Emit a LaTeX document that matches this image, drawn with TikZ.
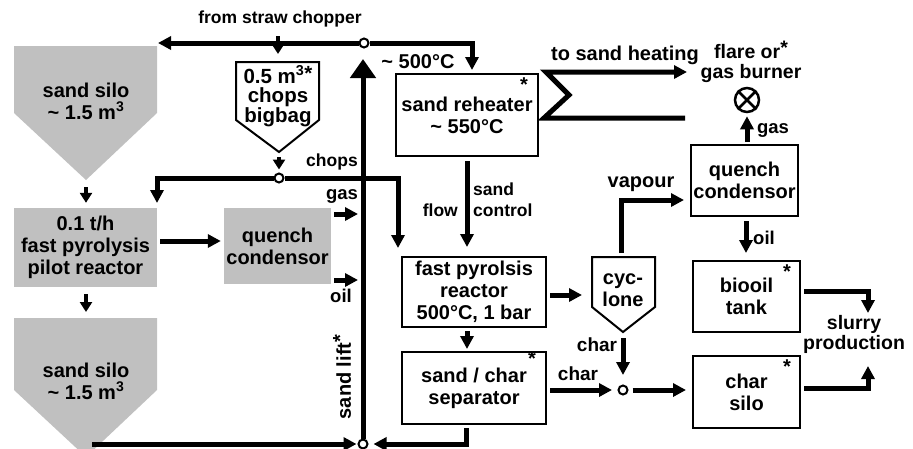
\documentclass[tikz,border=0pt]{standalone}
\usepackage{fontspec}
\setmainfont{Liberation Sans}
\usetikzlibrary{arrows.meta,calc}
\definecolor{silogray}{RGB}{192,192,192}
\newcommand{\bxfont}{\fontsize{20}{22}\selectfont\bfseries}
\newcommand{\lbfont}{\fontsize{17.5}{19}\selectfont\bfseries}
\begin{document}
\begin{tikzpicture}[x=1pt,y=-1pt,
  flow/.style={line width=5pt,-{Triangle[length=13pt,width=13pt]}},
  thinflow/.style={line width=4pt,-{Triangle[length=10pt,width=12pt]}},
  liftflow/.style={line width=5pt,-{Triangle[length=19pt,width=25pt]}},
  box/.style={draw,line width=2pt,fill=white,inner sep=0pt,align=center,font=\bxfont},
  gbox/.style={fill=silogray,inner sep=0pt,align=center,font=\bxfont},
  pent/.style={draw,line width=2pt,fill=white},
  txt/.style={inner sep=0pt,align=center,font=\bxfont},
  lbl/.style={inner sep=0pt,align=center,font=\lbfont},
  jn/.style={circle,draw,line width=2pt,fill=white,minimum size=9pt,inner sep=0pt},
  starmark/.style={inner sep=0pt,font=\bxfont},
]
\clip (0,0) rectangle (913,448);
\fill[white] (0,0) rectangle (913,448);

% ---------- left column ----------
\fill[silogray] (14,46) -- (157,46) -- (157,113) -- (86,180) -- (14,113) -- cycle;
\node[txt] (silo1) at (86,101) {sand silo\\\textasciitilde\ 1.5 m\textsuperscript{3}};
\coordinate (s1tip) at (86,180);
\coordinate (s1in) at (158,43);

\node[gbox,minimum width=143pt,minimum height=79pt] (pilot) at (85.5,247.5) {0.1 t/h\\fast pyrolysis\\pilot reactor};
\coordinate (pilotin) at (157,203);

\fill[silogray] (14,318) -- (157,318) -- (157,390) -- (86,457) -- (14,390) -- cycle;
\node[txt] (silo2) at (86,381) {sand silo\\\textasciitilde\ 1.5 m\textsuperscript{3}};
\coordinate (s2top) at (86,318);
\coordinate (s2out) at (92,444);

\node[gbox,minimum width=107pt,minimum height=76pt] (q1) at (277.5,246) {quench\\condensor};
\coordinate (gasout) at (358,214);
\coordinate (oilout) at (358,280);

% ---------- bigbag ----------
\draw[pent] (236,62) -- (319,62) -- (319,120) -- (279,152) -- (236,120) -- cycle;
\node[txt,font=\fontsize{20.5}{19}\selectfont\bfseries] (bigbag) at (278,96) {0.5 m\textsuperscript{3}\raisebox{3pt}{*}\\chops\\bigbag};
\coordinate (bbtip) at (279,152);
\coordinate (chopper) at (278,36);
\coordinate (bbin) at (278,54);

% ---------- junctions ----------
\node[jn] (j1) at (364,43) {};
\node[jn] (j2) at (279,178) {};
\node[jn] (j3) at (363,444) {};
\node[jn] (j4) at (623,390) {};
\coordinate (lifttop) at (363,59);
\coordinate (rhin) at (472,70);
\coordinate (rxin) at (398,248);

% ---------- centre column ----------
\node[box,minimum width=142pt,minimum height=82pt] (rh) at (467,115) {sand reheater\\\textasciitilde\ 550°C};
\node[starmark] (rhstar) at (524,85) {*};
\node[box,minimum width=144pt,minimum height=70pt] (rx) at (474,292) {fast pyrolsis\\reactor\\500°C, 1 bar};
\node[box,minimum width=144pt,minimum height=72pt] (sep) at (474,388) {sand / char\\separator};
\node[starmark] (sepstar) at (532,359) {*};

% ---------- cyclone ----------
\draw[pent] (592,257) -- (655,257) -- (655,307) -- (623,332) -- (592,307) -- cycle;
\node[txt] (cyc) at (623,290) {cyc-\\lone};
\coordinate (cyctop) at (621,253);
\coordinate (cyctip) at (623,332);
\coordinate (cycin) at (582,295);

% ---------- right column ----------
\node[box,minimum width=107pt,minimum height=71pt] (q2) at (744.5,180.5) {quench\\condensor};
\node[box,minimum width=107pt,minimum height=71pt] (bio) at (746.5,296.5) {biooil\\tank};
\node[starmark] (biostar) at (787,272) {*};
\node[box,minimum width=107pt,minimum height=72pt] (csilo) at (746.5,392) {char\\silo};
\node[starmark] (csstar) at (787,367) {*};
\node[circle,draw,line width=2.5pt,minimum size=24pt,inner sep=0pt] (burner) at (747,100) {};
\draw[line width=2.5pt] (burner.north west) -- (burner.south east) (burner.north east) -- (burner.south west);
\coordinate (sigA) at (685,118);
\coordinate (sigB) at (687,72);
\coordinate (slurry1) at (868,313);
\coordinate (slurry2) at (868,366);

% ---------- connectors ----------
\draw[flow] (j1.west) -- (s1in);
\draw[thinflow] (chopper) -- (bbin);
\draw[flow] (j1.east) -| (rhin);
\draw[liftflow] (j3.north) -- (lifttop);
\draw[thinflow] ($(bbtip)+(0,5)$) -- ($(j2.north)+(0,-3)$);
\draw[flow] (j2.west) -| (pilotin);
\draw[flow] (j2.east) -| (rxin);
\draw[thinflow] ($(s1tip)+(0,7)$) -- ($(pilot.north)+(0.5,-5)$);
\draw[thinflow] ($(pilot.south)+(0.5,7)$) -- ($(s2top)+(0,-6)$);
\draw[flow] ($(pilot.east)+(3,-6.5)$) -- ($(q1.west)+(-3,-5)$);
\draw[flow] ($(q1.east)+(3,-32)$) -- (gasout);
\draw[flow] ($(q1.east)+(3,34)$) -- (oilout);
\draw[flow] ($(rh.south)+(0,4)$) -- ($(rh.south |- rx.north)+(0,-9)$);
\draw[flow] ($(rx.south)+(-7,3)$) -- ($(sep.north)+(-7,-2)$);
\draw[flow] (sigA) -- ($(rh.east)+(5,3)$) -- ($(rh.east)+(30,-20)$) -- ($(rh.east)+(7,-43)$) -- (sigB);
\draw[flow] ($(rx.east)+(3,3)$) -- (cycin);
\draw[flow] (cyctop) |- ($(q2.west)+(-6,19.5)$);
\draw[flow] ($(burner.south |- q2.north)+(0,-2)$) -- ($(burner.south)+(0,3)$);
\draw[flow] ($(q2.south)+(1.5,4)$) -- ($(bio.north)+(-0.5,-7)$);
\draw[flow] ($(cyctip)+(0,6)$) -- ($(j4.north)+(0,-9.5)$);
\draw[flow] ($(sep.east)+(3,2)$) -- ($(j4.west)+(-5.5,0)$);
\draw[flow] ($(j4.east)+(4,0)$) -- ($(csilo.west |- j4)+(-6,0)$);
\draw[flow] ($(bio.east)+(3,-5.5)$) -| (slurry1);
\draw[flow] ($(csilo.east)+(3,-4)$) -| (slurry2);
\draw[flow] (s2out) -- ($(j3.west)+(-1,0)$);
\draw[flow] ($(sep.south)+(-8,3)$) |- ($(j3.east)+(5,0)$);

% ---------- labels ----------
\node[lbl] (lchopper) at (280,19) {from straw chopper};
\node[txt] (l500) at (418,62) {\textasciitilde\ 500°C};
\node[lbl] (lchops) at (332,162) {chops};
\node[lbl,font=\fontsize{18.5}{20}\selectfont\bfseries] (lgas1) at (342,196) {gas};
\node[lbl,font=\fontsize{18.5}{20}\selectfont\bfseries] (loil1) at (341,296) {oil};
\node[lbl,anchor=west] (lsand) at (473,189) {sand};
\node[lbl,anchor=west] (lcontrol) at (473,210) {control};
\node[lbl,anchor=east] (lflow) at (458,210) {flow};
\node[txt] (lheat) at (625,55) {to sand heating};
\node[txt,font=\fontsize{19.5}{19.5}\selectfont\bfseries] (lflare) at (751,62) {flare or\raisebox{4pt}{*}\\gas burner};
\node[lbl,font=\fontsize{18.5}{20}\selectfont\bfseries] (lgas2) at (773,130) {gas};
\node[txt] (lvapour) at (641,184) {vapour};
\node[lbl,font=\fontsize{18.5}{20}\selectfont\bfseries] (loil2) at (764,238) {oil};
\node[txt,font=\fontsize{19}{20}\selectfont\bfseries] (lchar1) at (597,345) {char};
\node[txt,font=\fontsize{19}{20}\selectfont\bfseries] (lchar2) at (578,374) {char};
\node[txt,font=\fontsize{19.5}{20}\selectfont\bfseries] (lslurry) at (854,334) {slurry\\production};
\node[txt,rotate=90] (llift) at (342,377) {sand lift\raisebox{4pt}{*}};
\end{tikzpicture}
\end{document}
